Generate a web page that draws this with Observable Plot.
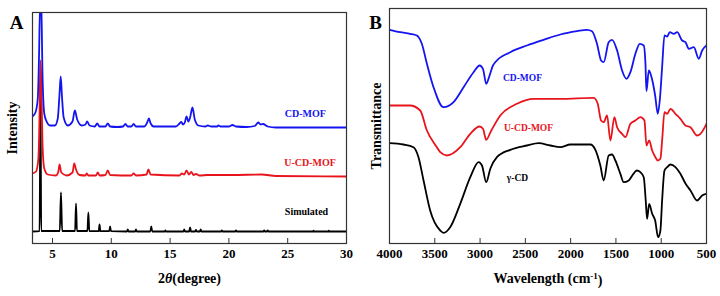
<!DOCTYPE html>
<html>
<head>
<meta charset="utf-8">
<script src="https://cdn.jsdelivr.net/npm/d3@7"></script>
<script src="https://cdn.jsdelivr.net/npm/@observablehq/plot@0.6"></script>
<style>
  html, body { margin: 0; padding: 0; background: #fff; }
  #wrap { display: flex; width: 720px; height: 296px; }
</style>
</head>
<body>
<div id="wrap"></div>
<script>
// ---------- Panel A: XRD (2θ in degrees, intensity in arbitrary units, stacked) ----------
const xrdTicks = [5, 10, 15, 20, 25, 30];
const xrdSimulated = [
  [3.3,12],[3.9,12.3],[3.98,150],[4.04,12.5],[5.62,12.5],[5.72,51],[5.82,12.5],
  [6.92,12.5],[7.0,40],[7.08,12.5],[7.97,12.5],[8.05,31],[8.13,12.5],
  [8.93,12.3],[9.0,19],[9.07,12.3],[9.83,12.3],[9.9,17],[9.97,12.3],
  [11.33,12],[11.4,14],[11.47,12],[12.03,12],[12.1,14],[12.17,12],
  [13.32,12],[13.4,17],[13.48,12],[14.55,12],[14.6,13],[14.65,12],
  [16.13,12],[16.2,14],[16.27,12],[16.62,12],[16.7,16],[16.78,12],
  [17.13,12],[17.2,13.5],[17.27,12],[17.53,12],[17.6,14],[17.67,12],
  [19.33,12],[19.4,13],[19.47,12],[20.53,12],[20.6,13],[20.67,12],
  [22.93,12],[23.0,13],[23.07,12],[23.23,12],[23.3,13],[23.37,12],
  [27.15,12],[27.2,12.8],[27.25,12],[28.45,12],[28.5,12.8],[28.55,12],[30,12]
];
const xrdUCDMOF = [
  [3.3,70],[3.6,72],[3.8,85],[3.9,130],[3.97,183],[4.05,160],[4.15,100],[4.3,75],[4.6,69],
  [5.3,68],[5.5,72],[5.6,79],[5.75,71],[6.2,68],[6.7,71],[6.85,80],[7.0,74],[7.3,68.5],
  [7.8,68],[7.9,70],[8.05,68],[8.7,68],[8.85,71],[9.0,68],[9.5,68.5],[9.7,73],[9.9,68.5],
  [11.7,68],[11.9,70],[12.1,68],[13.0,69],[13.15,74],[13.35,69],[15.8,68],[16.0,70],
  [16.2,69],[16.4,73],[16.6,69],[16.8,71.5],[17.0,68.5],[17.2,69.5],[17.5,68],
  [18.2,68.5],[19.0,68.5],[20.3,68.5],[22.8,69],[24,67.5],[30,67]
];
const xrdCDMOF = [
  [3.3,127],[3.55,131],[3.75,145],[3.85,185],[3.95,240],[4.05,235],[4.15,170],[4.3,130],
  [4.5,122],[4.8,118],[5.2,118],[5.45,125],[5.6,150],[5.7,167],[5.8,148],[5.95,126],
  [6.3,118],[6.7,122],[6.9,133],[7.1,124],[7.5,118],[7.8,119],[7.95,122],[8.15,118],
  [8.6,117],[8.8,120],[9.0,117],[9.5,117],[9.7,120],[9.9,117],[10.5,116.5],[11.0,117],
  [11.2,119.5],[11.4,117],[11.7,117],[11.9,119.5],[12.1,117],[12.8,117],[13.05,121],
  [13.2,125],[13.35,120],[13.6,117],[15.5,117],[15.8,120],[15.95,121.5],[16.1,119],
  [16.25,121],[16.4,127],[16.55,122],[16.7,126],[16.9,136],[17.1,124],[17.4,118],
  [18.0,117],[18.2,118],[18.5,117],[19.0,117],[19.1,118],[19.3,117],[20.0,117],
  [20.3,118.5],[20.6,117],[21.5,116.5],[22.2,117.5],[22.5,121],[22.7,119],[22.9,119.5],
  [23.3,117],[24.0,116],[26,116],[30,116]
];
const xrdLabels = [
  {text: "CD-MOF", x: 26.5, y: 130, color: "#1414f0"},
  {text: "U-CD-MOF", x: 26.9, y: 81, color: "#e8141c"},
  {text: "Simulated", x: 26.6, y: 32, color: "#000"}
];

// ---------- Panel B: FTIR (wavenumber cm-1, transmittance a.u., stacked) ----------
const ftirTicks = [4000, 3500, 3000, 2500, 2000, 1500, 1000, 500];
const ftirCDMOF = [
  [4000,213.7],[3882,211.3],[3772,209.7],[3698,208],[3643,199.7],[3587,179.7],[3514,156.3],
  [3403,136.3],[3293,141.3],[3182,156.3],[3072,171.3],[3005,178],[2968,174.7],[2932,159.7],
  [2895,168],[2858,178],[2832,181.3],[2666,191.3],[2482,198],[2298,203.7],[2114,209],
  [1930,212.3],[1819,213.7],[1764,212.3],[1709,199.7],[1664,183],[1635,181.3],[1580,201.3],
  [1543,203.7],[1487,193],[1432,173],[1384,164.7],[1340,171.3],[1285,189.7],[1237,199.7],
  [1193,198],[1174,179.7],[1163,152.3],[1137,173],[1112,168],[1090,159.7],[1067,148],
  [1038,129.7],[1016,143],[990,176.3],[964,208],[935,207],[905,211.3],[861,209.7],
  [824,211.3],[769,203],[732,201.3],[695,194.7],[640,196.3],[585,184.7],[548,193],[500,198]
];
const ftirUCDMOF = [
  [4000,138],[3772,138],[3661,133],[3587,113],[3477,96.3],[3440,91.3],[3366,88],
  [3219,96.3],[3108,109.7],[3005,117],[2968,114.7],[2932,103.7],[2880,112.3],[2777,128],
  [2593,139.7],[2408,144.7],[2114,144.7],[1745,145.7],[1701,139.7],[1664,123],[1635,121.3],
  [1598,128],[1561,103],[1517,126.3],[1487,116.3],[1432,109.7],[1395,106.3],[1340,119.7],
  [1285,123],[1230,126.3],[1185,123],[1163,98],[1133,103],[1100,93],[1064,86.3],
  [1038,83],[1009,84.7],[990,103],[964,131.3],[935,129.7],[898,134.7],[843,129.7],
  [788,124.7],[732,118],[677,116.3],[604,108],[567,109.7],[500,119.7]
];
const ftirGammaCD = [
  [4000,100.3],[3845,99],[3735,96.3],[3680,86.3],[3624,63],[3551,33],[3440,13],[3403,10.7],
  [3330,16.3],[3219,39.7],[3108,66.3],[3016,81.3],[2979,78],[2932,61.3],[2887,74.7],
  [2814,86.3],[2666,93.7],[2482,98],[2353,100.3],[2224,98],[2114,96.3],[2003,99],
  [1782,99],[1727,93.7],[1672,78],[1635,63],[1580,88],[1543,89],[1506,83],[1451,69.7],
  [1414,61.3],[1359,63],[1307,69.7],[1271,73],[1230,71.3],[1193,66.3],[1171,43],
  [1156,24.7],[1133,39.7],[1100,29.7],[1067,23],[1034,6.3],[1009,13],[990,43],
  [964,73],[935,76.3],[898,79],[843,76.3],[788,69.7],[732,60],[677,53],[604,43],
  [548,48],[500,49.7]
];
const ftirLabels = [
  {text: "CD-MOF", x: 2532, y: 166, color: "#1414f0"},
  {text: "U-CD-MOF", x: 2465, y: 116, color: "#e8141c"},
  {text: "γ-CD", x: 2587, y: 66, color: "#000"}
];

const FONT = '"Liberation Serif","Times New Roman",serif';
const BLUE = "#1414f0", RED = "#e8141c", BLACK = "#000";

function panel(o) {
  const line = (data, stroke) => Plot.line(data, {
    x: d => d[0], y: d => d[1], stroke, strokeWidth: 1.8, curve: "monotone-x", clip: true
  });
  return Plot.plot({
    width: 360, height: 296,
    marginLeft: o.ml, marginRight: o.mr, marginTop: o.mt, marginBottom: 53,
    style: {fontFamily: FONT, fontWeight: "bold", fontSize: "13px", color: "#000", background: "#fff", overflow: "visible"},
    x: {domain: o.xDomain},
    y: {domain: o.yDomain, axis: null},
    marks: [
      line(o.series[0], BLACK),
      line(o.series[1], RED),
      line(o.series[2], BLUE),
      Plot.frame({stroke: "#333", strokeWidth: 1.2}),
      Plot.axisX({ticks: o.ticks, tickSize: -5, tickPadding: 10, tickFormat: d => String(d), label: null, fontSize: 13, stroke: "#333"}),
      Plot.text(o.labels, {x: "x", y: "y", text: "text", fill: "color", fontSize: o.labelSize, fontWeight: "bold"}),
      Plot.text([o.letter], {frameAnchor: "top-left", textAnchor: "middle", lineAnchor: "middle", dx: o.letterDx, dy: o.letterDy, fontSize: 19, fontWeight: "bold", text: d => d}),
      Plot.text([o.ylabel], {frameAnchor: "left", textAnchor: "middle", lineAnchor: "middle", rotate: -90, dx: o.ylabDx, fontSize: 14, fontWeight: "bold", text: d => d}),
      Plot.text([o.xlabel], {frameAnchor: "bottom", textAnchor: "middle", lineAnchor: "middle", dy: 35, fontSize: 14, fontWeight: "bold", text: d => d})
    ]
  });
}

const A = panel({
  ml: 32, mr: 14, mt: 12, xDomain: [3.3, 30], yDomain: [0, 231], ticks: xrdTicks,
  series: [xrdSimulated, xrdUCDMOF, xrdCDMOF], labels: xrdLabels, labelSize: 10,
  letter: "A", letterDx: -16, letterDy: 10, ylabel: "Intensity", ylabDx: -20, xlabel: "2θ(degree)"
});
const B = panel({
  ml: 29, mr: 14, mt: 8, xDomain: [4000, 500], yDomain: [0, 235], ticks: ftirTicks,
  series: [ftirGammaCD, ftirUCDMOF, ftirCDMOF], labels: ftirLabels, labelSize: 9.5,
  letter: "B", letterDx: -14, letterDy: 14, ylabel: "Transmittance", ylabDx: -13, xlabel: "Wavelength (cm-1)"
});

// rich text for axis titles (italic θ, superscript -1)
d3.select(A).selectAll("text").filter(function() { return this.textContent === "2θ(degree)"; })
  .each(function() {
    const t = d3.select(this); t.text("");
    t.append("tspan").text("2");
    t.append("tspan").attr("font-style", "italic").text("θ");
    t.append("tspan").text("(degree)");
  });
d3.select(B).selectAll("text").filter(function() { return this.textContent === "Wavelength (cm-1)"; })
  .each(function() {
    const t = d3.select(this); t.text("");
    t.append("tspan").text("Wavelength (cm");
    t.append("tspan").attr("dy", "-0.45em").attr("font-size", "9px").text("-1");
    t.append("tspan").attr("dy", "0.45em").text(")");
  });

document.getElementById("wrap").append(A, B);
</script>
</body>
</html>
